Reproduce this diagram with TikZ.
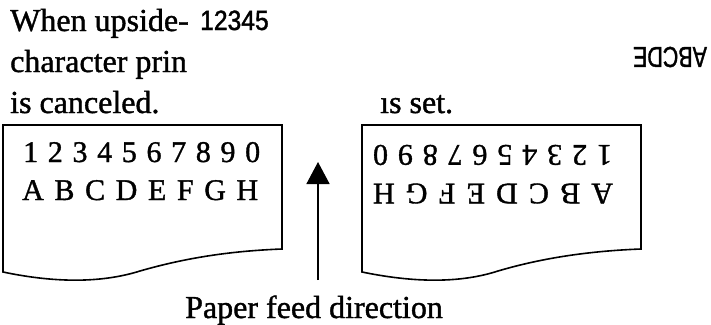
\documentclass[tikz,border=0pt]{standalone}
\usepackage{fontspec}
\usepackage{graphicx}
\setmainfont{Liberation Serif}
\newfontfamily\heavyserif[FakeBold=1.2]{Liberation Serif}
\newfontfamily\arialf[FakeBold=1.5]{Liberation Sans}
\usetikzlibrary{arrows.meta}
\tikzset{
  hdr/.style={inner sep=0pt, font=\fontsize{32}{32}\heavyserif},
  rowtxt/.style={inner sep=0pt, font=\fontsize{30}{30}\heavyserif},
  sanstxt/.style={inner sep=0pt, font=\fontsize{26.5}{26.5}\arialf},
  paper/.style={draw=black, line width=1.6pt, line join=miter},
  feed/.style={draw=black, line width=1.6pt, -{Triangle[length=22pt,width=23pt]}}
}
\begin{document}
\begin{tikzpicture}[x=1pt,y=-1pt]
\useasboundingbox[fill=white] (0,0) rectangle (711,324);
% header texts
\node[hdr, anchor=base west] (l1) at (10,31) {When upside-};
\node[hdr, anchor=base west] (l2) at (10,72) {character prin};
\node[hdr, anchor=base west] (l3) at (10,113) {is canceled.};
\node[hdr, anchor=base west] (l4) at (380,113) {ıs set.};
\node[sanstxt, anchor=base west] (n5) at (200,30) {\scalebox{0.93}[1.05]{12345}};
\node[sanstxt, rotate=180, font=\fontsize{29}{29}\arialf] (abc) at (670,57) {\scalebox{0.74}[1]{ABCDE}};
% left paper
\draw[paper] (3,125) -- (282,125) -- (282,249)
  .. controls (230,251) and (185,258) .. (140,271)
  .. controls (105,282) and (60,284) .. (3,272) -- cycle;
\node[rowtxt, anchor=base west] (d1) at (23,162) {\makebox[237pt][s]{1 2 3 4 5 6 7 8 9 0}};
\node[rowtxt, anchor=base west] (a1) at (22,200) {\makebox[236pt][s]{A B C D E F G H}};
% right paper
\draw[paper] (362,125) -- (641,125) -- (641,249)
  .. controls (589,251) and (542,258) .. (498,271)
  .. controls (464,282) and (420,284) .. (362,272) -- cycle;
\node[rowtxt, rotate=180] (d2) at (492.5,155) {\makebox[239pt][s]{1 2 3 4 5 6 7 8 9 0}};
\node[rowtxt, rotate=180] (a2) at (493,193.5) {\makebox[240pt][s]{A B C D E F G H}};
% feed arrow
\coordinate (fb) at (318,280);
\coordinate (ft) at (318,162);
\draw[feed] (fb) -- (ft);
\node[hdr, anchor=base west] (pf) at (185,318) {Paper feed direction};
\end{tikzpicture}
\end{document}
